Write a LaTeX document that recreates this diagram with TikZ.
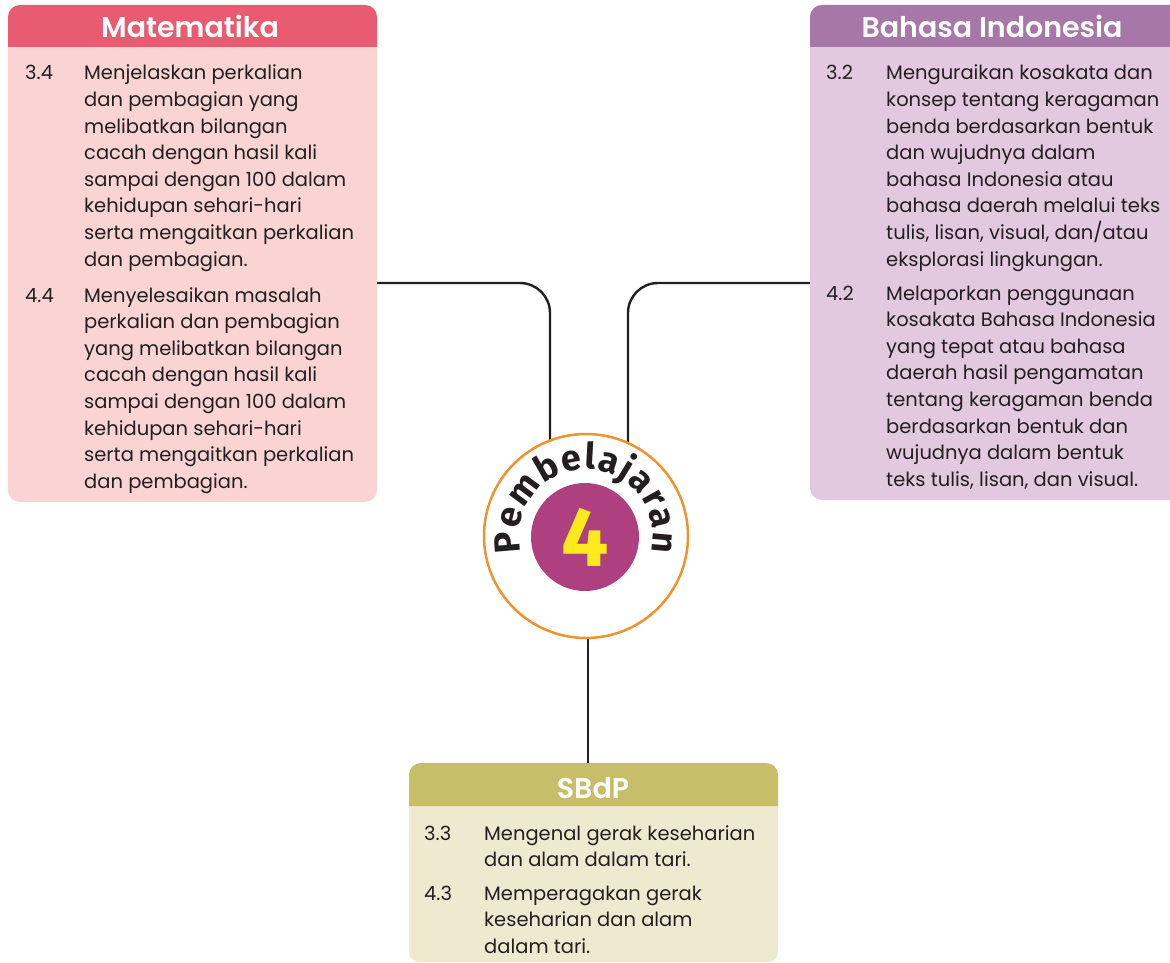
\documentclass[tikz,border=0pt]{standalone}
\usepackage{fontspec}
\setmainfont{Poppins}
\newfontfamily\hdrfont{Poppins}[UprightFont={* SemiBold}]
\newfontfamily\circfont{Fira Sans}
\usetikzlibrary{decorations.text}
\definecolor{matH}{HTML}{E85B70}
\definecolor{matB}{HTML}{F9D4D3}
\definecolor{bahH}{HTML}{A677A7}
\definecolor{bahB}{HTML}{E2C9DF}
\definecolor{sbdH}{HTML}{C8BE69}
\definecolor{sbdB}{HTML}{EEEAD0}
\definecolor{orng}{HTML}{F0922D}
\definecolor{purp}{HTML}{AF4080}
\definecolor{yel}{HTML}{FCEA1C}
\definecolor{ink}{HTML}{231F20}
\pgfdeclarelayer{bg}
\pgfsetlayers{bg,main}
\begin{document}
\begin{tikzpicture}[x=1pt,y=1pt,
  conn/.style={draw=ink, line width=2.4pt, rounded corners=30pt},
  frame/.style={inner sep=0pt, outer sep=0pt, anchor=north west},
  title/.style={text=white, anchor=base, inner sep=0pt, font=\hdrfont\fontsize{28.5}{29}\selectfont},
  num/.style={text=ink, anchor=base west, inner sep=0pt, font=\fontsize{19.5}{26.6}\selectfont},
  body/.style={text=ink, anchor=base west, inner sep=0pt, font=\fontsize{19.5}{26.6}\selectfont}]
\useasboundingbox (0,0) rectangle (1170,-963);
% frames
\node[frame, minimum width=369pt, minimum height=497pt] (mat) at (8,-5) {};
\node[frame, minimum width=360pt, minimum height=495pt] (bah) at (810,-5) {};
\node[frame, minimum width=369pt, minimum height=199pt] (sbd) at (409,-763) {};
% Matematika box
\fill[matB] (8,-17) arc[start angle=180,end angle=90,radius=12] -- (365,-5) arc[start angle=90,end angle=0,radius=12] -- (377,-490) arc[start angle=0,end angle=-90,radius=12] -- (20,-502) arc[start angle=270,end angle=180,radius=12] -- cycle;
\fill[matH] (8,-47) -- (8,-17) arc[start angle=180,end angle=90,radius=12] -- (365,-5) arc[start angle=90,end angle=0,radius=12] -- (377,-47) -- cycle;
\node[title] (matT) at (190,-38) {Matematika};
% Bahasa box
\fill[bahB] (1170,-5) -- (822,-5) arc[start angle=90,end angle=180,radius=12] -- (810,-488) arc[start angle=180,end angle=270,radius=12] -- (1170,-500) -- cycle;
\fill[bahH] (1170,-5) -- (822,-5) arc[start angle=90,end angle=180,radius=12] -- (810,-47) -- (1170,-47) -- cycle;
\node[title] (bahT) at (992,-38) {Bahasa Indonesia};
% SBdP box
\fill[sbdB] (409,-775) arc[start angle=180,end angle=90,radius=12] -- (766,-763) arc[start angle=90,end angle=0,radius=12] -- (778,-952) arc[start angle=0,end angle=-90,radius=10] -- (419,-962) arc[start angle=270,end angle=180,radius=10] -- cycle;
\fill[sbdH] (409,-806) -- (409,-775) arc[start angle=180,end angle=90,radius=12] -- (766,-763) arc[start angle=90,end angle=0,radius=12] -- (778,-806) -- cycle;
\node[title] (sbdT) at (593,-798) {SBdP};
% Matematika texts
\node[num] (m1n) at (25,-80) {3.4};
\node[body] (m1) at (84,-80) {\parbox[t]{292pt}{Menjelaskan perkalian\\dan pembagian yang\\melibatkan bilangan\\cacah dengan hasil kali\\sampai dengan 100 dalam\\kehidupan sehari-hari\\serta mengaitkan perkalian\\dan pembagian.}};
\node[num] (m2n) at (25,-302) {4.4};
\node[body] (m2) at (84,-302) {\parbox[t]{292pt}{Menyelesaikan masalah\\perkalian dan pembagian\\yang melibatkan bilangan\\cacah dengan hasil kali\\sampai dengan 100 dalam\\kehidupan sehari-hari\\serta mengaitkan perkalian\\dan pembagian.}};
% Bahasa texts
\node[num] (b1n) at (826,-80) {3.2};
\node[body] (b1) at (886,-80) {\parbox[t]{282pt}{Menguraikan kosakata dan\\konsep tentang keragaman\\benda berdasarkan bentuk\\dan wujudnya dalam\\bahasa Indonesia atau\\bahasa daerah melalui teks\\tulis, lisan, visual, dan/atau\\eksplorasi lingkungan.}};
\node[num] (b2n) at (826,-300) {4.2};
\node[body] (b2) at (886,-300) {\parbox[t]{282pt}{Melaporkan penggunaan\\kosakata Bahasa Indonesia\\yang tepat atau bahasa\\daerah hasil pengamatan\\tentang keragaman benda\\berdasarkan bentuk dan\\wujudnya dalam bentuk\\teks tulis, lisan, dan visual.}};
% SBdP texts
\node[num] (s1n) at (424,-840) {3.3};
\node[body] (s1) at (484,-840) {\parbox[t]{290pt}{Mengenal gerak keseharian\\dan alam dalam tari.}};
\node[num] (s2n) at (424,-900) {4.3};
\node[body] (s2) at (484,-900) {\parbox[t]{290pt}{Memperagakan gerak\\keseharian dan alam\\dalam tari.}};
% centre circle
\node[circle, draw=orng, line width=2.5pt, fill=white, minimum size=204pt, inner sep=0pt] (circ) at (586,-536) {};
\node[circle, fill=purp, minimum size=108pt, inner sep=0pt, text=yel, font=\circfont\bfseries\fontsize{84}{84}\selectfont] (num4) at (585,-537) {4};
\path[decorate, decoration={text along path, text align=fit to path, text={|\circfont\bfseries\fontsize{36}{36}\selectfont\color{ink}|Pembelajaran}}]
  (circ.center) ++(194:67) arc[start angle=194, end angle=-14, radius=67];
% connectors
\coordinate (jl) at (550,-283);
\coordinate (jr) at (628,-283);
\begin{pgfonlayer}{bg}
\draw[conn] (mat.east |- jl) -- (jl) -- (jl |- circ.center);
\draw[conn] (bah.west |- jr) -- (jr) -- (jr |- circ.center);
\draw[conn] ([xshift=2pt]circ.center) -- ([xshift=2pt]circ.center |- sbd.north);
\end{pgfonlayer}
\end{tikzpicture}
\end{document}
